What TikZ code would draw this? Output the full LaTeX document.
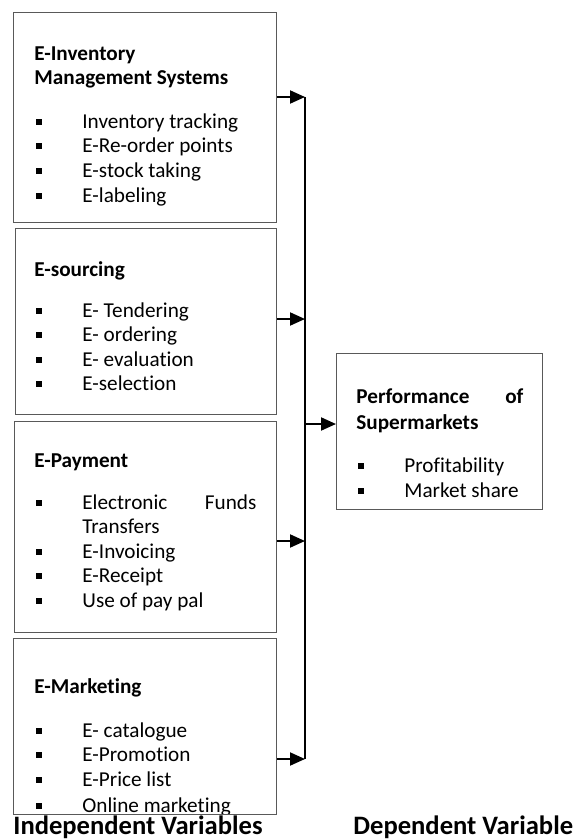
\documentclass[tikz,border=0pt]{standalone}
\usepackage{fontspec}
\setmainfont[Ligatures={NoCommon}]{Carlito}
\usetikzlibrary{arrows.meta}

\def\unit{0.5pt}
\newcommand{\sqitem}{\makebox[23pt][l]{\rule[1.7pt]{3pt}{3pt}}}

\begin{document}
\begin{tikzpicture}[x=\unit, y=-\unit, every node/.style={inner sep=0pt, font=\fontsize{10.6pt}{12pt}\selectfont},
    box/.style={draw=black!65, line width=0.5pt, anchor=north west},
    ttl/.style={anchor=base west, font=\fontsize{10.6pt}{12pt}\selectfont\bfseries},
    itm/.style={anchor=base west},
    foot/.style={anchor=base west, font=\fontsize{13.3pt}{15pt}\selectfont\bfseries},
    arr/.style={-{Triangle[length=7.5pt,width=6.5pt]}, line width=1pt}]
      \useasboundingbox (0,0) rectangle (574,840);
      % independent variable boxes
      \node[box, minimum width=131.5pt, minimum height=105pt] (inv) at (13,12) {};
      \node[box, minimum width=130.5pt, minimum height=93pt] (src) at (15,228) {};
      \node[box, minimum width=131pt, minimum height=105.5pt] (pay) at (14,421) {};
      \node[box, minimum width=131.5pt, minimum height=88pt] (mkt) at (13,638) {};
      % dependent variable box
      \node[box, minimum width=103pt, minimum height=78pt] (perf) at (336,353) {};
      % E-Inventory
      \node[ttl] (inv-t1) at (34,61) {E-Inventory};
      \node[ttl] (inv-t2) at (34,85) {Management Systems};
      \node[itm] (inv-i1) at (36,128) {\sqitem Inventory tracking};
      \node[itm] (inv-i2) at (36,152) {\sqitem E-Re-order points};
      \node[itm] (inv-i3) at (36,177) {\sqitem E-stock taking};
      \node[itm] (inv-i4) at (36,202) {\sqitem E-labeling};
      % E-sourcing
      \node[ttl] (src-t1) at (34,276) {E-sourcing};
      \node[itm] (src-i1) at (36,317) {\sqitem E- Tendering};
      \node[itm] (src-i2) at (36,341) {\sqitem E- ordering};
      \node[itm] (src-i3) at (36,366) {\sqitem E- evaluation};
      \node[itm] (src-i4) at (36,390) {\sqitem E-selection};
      % E-Payment
      \node[ttl] (pay-t1) at (34,467) {E-Payment};
      \node[itm] (pay-i1) at (36,509) {\sqitem\makebox[87pt][s]{Electronic\hfill Funds}};
      \node[itm] (pay-i1b) at (82,533) {Transfers};
      \node[itm] (pay-i2) at (36,558) {\sqitem E-Invoicing};
      \node[itm] (pay-i3) at (36,582) {\sqitem E-Receipt};
      \node[itm] (pay-i4) at (36,607) {\sqitem Use of pay pal};
      % E-Marketing
      \node[ttl] (mkt-t1) at (34,693) {E-Marketing};
      \node[itm] (mkt-i1) at (36,737) {\sqitem E- catalogue};
      \node[itm] (mkt-i2) at (36,761) {\sqitem E-Promotion};
      \node[itm] (mkt-i3) at (36,786) {\sqitem E-Price list};
      \begin{scope}
        \clip (13,638) rectangle (276,813);
        \node[itm] (mkt-i4) at (36,812) {\sqitem Online marketing};
      \end{scope}
      % Performance
      \node[ttl] (perf-t1) at (356,403) {\makebox[83.5pt][s]{Performance\hfill of}};
      \node[ttl] (perf-t2) at (356,429) {Supermarkets};
      \node[itm] (perf-i1) at (358,472) {\sqitem Profitability};
      \node[itm] (perf-i2) at (358,497) {\sqitem Market share};
      % connectors
      \coordinate (bus-top) at (305,97);
      \coordinate (bus-src) at (305,319);
      \coordinate (bus-perf) at (305,424);
      \coordinate (bus-pay) at (305,541);
      \coordinate (bus-bot) at (305,759);
      \draw[line width=1pt] (bus-top) -- (bus-bot);
      \draw[arr] (inv.east |- bus-top) -- (bus-top);
      \draw[arr] (src.east |- bus-src) -- (bus-src);
      \draw[arr] (pay.east |- bus-pay) -- (bus-pay);
      \draw[arr] (mkt.east |- bus-bot) -- (bus-bot);
      \draw[arr] (bus-perf) -- (perf.west |- bus-perf);
      % captions
      \node[foot] (lab-ind) at (13,834) {Independent Variables};
      \node[foot] (lab-dep) at (353,834) {Dependent Variable};
\end{tikzpicture}
\end{document}
